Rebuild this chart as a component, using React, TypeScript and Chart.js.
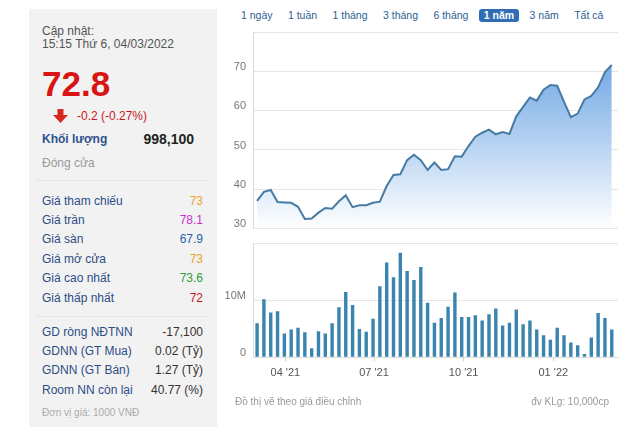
import React, { useEffect, useRef } from 'react';
import { Chart, registerables } from 'chart.js';

Chart.register(...registerables);

const FONT = '"Liberation Sans", Arial, sans-serif';
Chart.defaults.font.family = FONT;

// ---- data ----
const firstWeek = '2021-03-03';
const closePrices = [
  37.0, 39.3, 39.8, 36.7, 36.6, 36.5, 35.5, 32.4, 32.5, 34.0,
  35.2, 35.0, 36.9, 38.4, 35.4, 35.9, 35.9, 36.5, 36.8, 40.8,
  43.6, 43.8, 47.4, 48.8, 47.4, 44.9, 46.8, 44.9, 45.1, 48.4,
  48.3, 51.0, 53.4, 54.4, 55.2, 54.0, 54.6, 54.1, 58.6, 61.0,
  63.4, 62.6, 65.4, 66.6, 66.4, 62.3, 58.4, 59.3, 62.9, 63.8,
  66.0, 69.9, 71.7,
];
const volumesM = [
  6.0, 10.2, 7.9, 8.1, 4.2, 4.9, 5.2, 4.4, 1.6, 4.6,
  4.2, 6.0, 8.8, 11.5, 9.2, 5.0, 4.5, 6.8, 12.5, 16.7,
  14.1, 18.4, 15.2, 13.6, 15.9, 9.6, 6.1, 6.9, 8.9, 11.4,
  7.1, 7.1, 7.4, 6.5, 7.6, 8.6, 5.6, 6.1, 8.4, 5.8,
  6.5, 4.9, 3.9, 3.1, 5.2, 3.9, 2.6, 2.1, 0.6, 3.5,
  7.8, 6.9, 4.9,
];
const monthTickDates = ['2021-04-01', '2021-07-01', '2021-10-01', '2022-01-01'];
const monthTickLabels = ["04 '21", "07 '21", "10 '21", "01 '22"];
const priceTickValues = [30, 40, 50, 60, 70];
const volumeTickLabels: Record<number, string> = { 0: '0', 10: '10M' };

const tabs = ['1 ngày', '1 tuần', '1 tháng', '3 tháng', '6 tháng', '1 năm', '3 năm', 'Tất cả'];
const activeTab = '1 năm';

const updatedLabel = 'Cập nhật:';
const updatedTime = '15:15 Thứ 6, 04/03/2022';
const lastPrice = '72.8';
const priceChange = '-0.2 (-0.27%)';
const volumeLabel = 'Khối lượng';
const volumeValue = '998,100';
const closeLabel = 'Đóng cửa';

const priceRowLabels = ['Giá tham chiếu', 'Giá trần', 'Giá sàn', 'Giá mở cửa', 'Giá cao nhất', 'Giá thấp nhất'];
const priceRowValues = ['73', '78.1', '67.9', '73', '73.6', '72'];
const priceRowColors = ['#f0a030', '#cc30cc', '#1f5fa6', '#f0a030', '#2a9a3a', '#c01818'];

const foreignLabels = ['GD ròng NĐTNN', 'GDNN (GT Mua)', 'GDNN (GT Bán)', 'Room NN còn lại'];
const foreignValues = ['-17,100', '0.02 (Tỷ)', '1.27 (Tỷ)', '40.77 (%)'];
const unitNote = 'Đơn vị giá: 1000 VNĐ';
const footerLeft = 'Đồ thị vẽ theo giá điều chỉnh';
const footerRight = 'đv KLg: 10,000cp';

// ---- helpers ----
const DAY = 86400000;
const dayOffset = (d: string) => (Date.parse(d) - Date.parse(firstWeek)) / DAY;
const X_MIN = -4.2;
const X_MAX = 370.4;

function Txt(props: any) {
  const { x, y, size = 12, color = '#333', bold = false, align = 'left', children } = props;
  const style: any = {
    position: 'absolute',
    top: y - size * 0.6,
    fontSize: size,
    lineHeight: `${size * 1.2}px`,
    color,
    fontWeight: bold ? 700 : 400,
    whiteSpace: 'nowrap',
    fontFamily: FONT,
  };
  if (align === 'right') style.right = 630 - x;
  else style.left = x;
  return <div style={style}>{children}</div>;
}

export default function App() {
  const priceRef = useRef<HTMLCanvasElement>(null);
  const volRef = useRef<HTMLCanvasElement>(null);

  useEffect(() => {
    const priceChart = new Chart(priceRef.current as HTMLCanvasElement, {
      type: 'line',
      data: {
        datasets: [
          {
            data: closePrices.map((v, i) => ({ x: i * 7, y: v })),
            borderColor: '#467ca3',
            borderWidth: 2,
            pointRadius: 0,
            tension: 0,
            fill: 'start',
            backgroundColor: (ctx: any) => {
              const chart = ctx.chart;
              const area = chart.chartArea;
              if (!area) return 'rgba(120,170,230,0.5)';
              const g = chart.ctx.createLinearGradient(0, area.top, 0, area.bottom);
              g.addColorStop(0, 'rgba(88,152,224,1)');
              g.addColorStop(1, 'rgba(255,255,255,1)');
              return g;
            },
          },
        ],
      },
      options: {
        responsive: false,
        animation: false,
        layout: { padding: { top: 14.5, bottom: 14.7, left: 0, right: 8 } },
        plugins: { legend: { display: false }, tooltip: { enabled: false } },
        scales: {
          x: { type: 'linear', display: false, min: X_MIN, max: X_MAX },
          y: {
            min: 30,
            max: 80,
            afterFit: (s: any) => {
              s.width = 43;
            },
            ticks: {
              stepSize: 10,
              padding: 7,
              labelOffset: -4.5,
              color: '#777',
              font: { size: 11, family: FONT },
              callback: (v: any) => (priceTickValues.includes(Number(v)) ? String(v) : ''),
            },
            grid: { color: '#e6e6e6', drawTicks: false },
            border: { display: true, color: '#dcdcdc' },
          },
        },
      } as any,
    });

    const volChart = new Chart(volRef.current as HTMLCanvasElement, {
      type: 'bar',
      data: {
        datasets: [
          {
            data: volumesM.map((v, i) => ({ x: i * 7, y: v })),
            backgroundColor: '#3a84ad',
            barPercentage: 0.5,
            categoryPercentage: 1,
          },
        ],
      },
      options: {
        responsive: false,
        animation: false,
        layout: { padding: { top: 14.7, bottom: 0, left: 0, right: 8 } },
        plugins: { legend: { display: false }, tooltip: { enabled: false } },
        scales: {
          x: {
            type: 'linear',
            min: X_MIN,
            max: X_MAX,
            offset: false,
            afterBuildTicks: (s: any) => {
              s.ticks = monthTickDates.map((d) => ({ value: dayOffset(d) }));
            },
            afterFit: (s: any) => {
              s.height = 27.7;
            },
            ticks: {
              autoSkip: false,
              maxRotation: 0,
              padding: 5,
              color: '#555',
              font: { size: 11, family: FONT },
              callback: (_v: any, i: number) => monthTickLabels[i],
            },
            grid: { offset: false, drawOnChartArea: false, drawTicks: true, tickLength: 4, color: '#cfcfcf' },
            border: { display: true, color: '#dcdcdc' },
          },
          y: {
            min: 0,
            max: 20,
            afterFit: (s: any) => {
              s.width = 43;
            },
            ticks: {
              stepSize: 10,
              padding: 7,
              labelOffset: -4.5,
              color: '#777',
              font: { size: 11, family: FONT },
              callback: (v: any) => volumeTickLabels[Number(v)] ?? '',
            },
            grid: { color: '#e6e6e6', drawTicks: false },
            border: { display: true, color: '#dcdcdc' },
          },
        },
      } as any,
    });

    return () => {
      priceChart.destroy();
      volChart.destroy();
    };
  }, []);

  return (
    <div style={{ position: 'fixed', left: 0, top: 0, width: 630, height: 435, background: '#fff', overflow: 'hidden', fontFamily: FONT }}>
      {/* left info panel */}
      <div style={{ position: 'absolute', left: 29, top: 9, width: 188, height: 418, background: '#f2f2f2' }} />
      <Txt x={42} y={31} color="#555">{updatedLabel}</Txt>
      <Txt x={42} y={44} color="#555">{updatedTime}</Txt>
      <Txt x={42} y={84} size={35} bold color="#d81414">{lastPrice}</Txt>
      <svg style={{ position: 'absolute', left: 53, top: 109 }} width={15} height={14} viewBox="0 0 15 14">
        <polygon points="4.5,0 10.5,0 10.5,6 15,6 7.5,14 0,6 4.5,6" fill="#d8281e" />
      </svg>
      <Txt x={77} y={116} color="#c8161e">{priceChange}</Txt>
      <Txt x={42} y={139} bold color="#2f5190">{volumeLabel}</Txt>
      <Txt x={194} y={139} size={14} bold color="#222" align="right">{volumeValue}</Txt>
      <Txt x={42} y={163} color="#999">{closeLabel}</Txt>
      <div style={{ position: 'absolute', left: 36, top: 180, width: 174, height: 1, background: '#e6e6e6' }} />
      {priceRowLabels.map((l, i) => (
        <React.Fragment key={l}>
          <Txt x={42} y={200.7 + i * 19.4} color="#2d4d86">{l}</Txt>
          <Txt x={203} y={200.7 + i * 19.4} color={priceRowColors[i]} align="right">{priceRowValues[i]}</Txt>
        </React.Fragment>
      ))}
      <div style={{ position: 'absolute', left: 36, top: 316, width: 174, height: 1, background: '#e6e6e6' }} />
      {foreignLabels.map((l, i) => (
        <React.Fragment key={l}>
          <Txt x={42} y={331.7 + i * 19.4} color="#2d4d86">{l}</Txt>
          <Txt x={203} y={331.7 + i * 19.4} color="#333" align="right">{foreignValues[i]}</Txt>
        </React.Fragment>
      ))}
      <Txt x={42} y={413} size={10} color="#aaa">{unitNote}</Txt>

      {/* tabs */}
      <div style={{ position: 'absolute', left: 236, top: 9, display: 'flex', alignItems: 'center', height: 13 }}>
        {tabs.map((t) => {
          const on = t === activeTab;
          return (
            <span
              key={t}
              style={{
                fontSize: 10.5,
                lineHeight: '13px',
                padding: '0 5px',
                marginRight: 5.4,
                borderRadius: 3,
                color: on ? '#fff' : '#2c5f91',
                background: on ? '#2f6db5' : 'transparent',
                fontWeight: on ? 700 : 400,
                whiteSpace: 'nowrap',
              }}
            >
              {t}
            </span>
          );
        })}
      </div>

      {/* charts */}
      <canvas ref={priceRef} width={416} height={225} style={{ position: 'absolute', left: 210, top: 18 }} />
      <canvas ref={volRef} width={416} height={156} style={{ position: 'absolute', left: 210, top: 229 }} />

      <Txt x={235} y={402} size={10} color="#999">{footerLeft}</Txt>
      <Txt x={609} y={402} size={10} color="#999" align="right">{footerRight}</Txt>
    </div>
  );
}
